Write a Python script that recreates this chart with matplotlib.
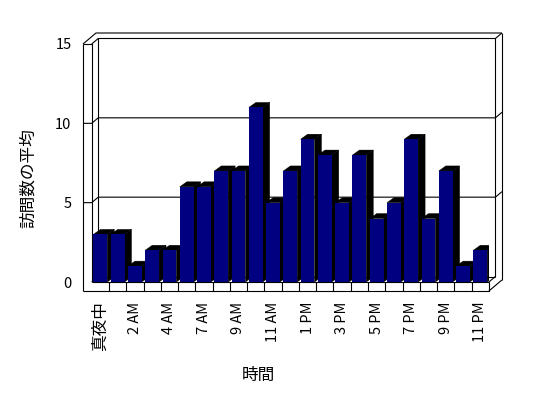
import matplotlib
matplotlib.use('Agg')
import matplotlib.pyplot as plt
from matplotlib.patches import Polygon

plt.rcParams['font.family'] = ['Noto Sans CJK JP', 'DejaVu Sans']

# ---- data ----
hours = ['真夜中', '1 AM', '2 AM', '3 AM', '4 AM', '6 AM', '7 AM', '8 AM',
         '9 AM', '10 AM', '11 AM', '12 PM', '1 PM', '2 PM', '3 PM', '4 PM',
         '5 PM', '6 PM', '7 PM', '8 PM', '9 PM', '10 PM', '11 PM']
values = [3, 3, 1, 2, 2, 6, 6, 7, 7, 11, 5, 7, 9, 8, 5, 8, 4, 5, 9, 4, 7, 1, 2]
y_ticks = [0, 5, 10, 15]
x_title = '時間'
y_title = '訪問数の平均'

# ---- figure ----
FW, FH = 548, 398
fig = plt.figure(figsize=(FW / 100, FH / 100), dpi=100)
L, R, T, B = 91.7, 488.9, 44, 282
ax = fig.add_axes([L / FW, 1 - B / FH, (R - L) / FW, (B - T) / FH])
n = len(values)
ymax = y_ticks[-1]
ax.set_xlim(-0.5, n - 0.5)
ax.set_ylim(0, ymax)
for s in ax.spines.values():
    s.set_visible(False)
ax.patch.set_visible(False)

# pixel -> data scale
sx = n / (R - L)
sy = ymax / (B - T)

x0, x1, y0, y1 = -0.5, n - 0.5, 0, ymax
t = 8.7 * sx          # left wall thickness
f = 9.0 * sy          # floor thickness
Dx, Dy = 6.5 * sx, 5.5 * sy   # back plane
Ox, Oy = 13 * sx, 11 * sy     # outer back plane
lw = 0.8
lc = 'black'


def line(pts, z=1):
    xs, ys = zip(*pts)
    ax.plot(xs, ys, color=lc, lw=lw, clip_on=False, zorder=z,
            solid_capstyle='butt')


# walls / frame (behind bars)
line([(x0 - t, y1), (x0 - t + Ox, y1 + Oy), (x1 + Ox, y1 + Oy)])
line([(x0, y1), (x0 + Dx, y1 + Dy), (x1 + Dx, y1 + Dy), (x1 + Ox, y1 + Oy)])
line([(x0 + Dx, y1 + Dy), (x0 + Dx, y0 + Dy), (x1 + Dx, y0 + Dy)])
line([(x0, y0), (x0 + Dx, y0 + Dy)])
line([(x1 + Dx, y1 + Dy), (x1 + Dx, y0 + Dy)])
line([(x1 + Ox, y1 + Oy), (x1 + Ox, y0 - f + Oy)])
line([(x1, y0), (x1 + Dx, y0 + Dy)])
line([(x1, y0 - f), (x1 + Ox, y0 - f + Oy)])
for v in y_ticks[1:-1]:
    line([(x0 - t, v), (x0, v), (x0 + Dx, v + Dy), (x1 + Dx, v + Dy),
          (x1 + Ox, v + Oy)])

# left wall front face
line([(x0 - t, y1), (x0 - t, y0 - f)], z=200)
line([(x0 - t, y1), (x0, y1), (x0, y0)], z=200)

# bars
w = 0.8
bdx, bdy = 7 * sx, 5 * sy
bars = ax.bar(range(n), values, width=w, color='#000080', linewidth=0)
for i, (v, p) in enumerate(zip(values, bars)):
    xr = i + w / 2
    xl = i - w / 2
    side = Polygon([(xr, 0), (xr + bdx, bdy), (xr + bdx, v + bdy), (xr, v)],
                   closed=True, facecolor='black', edgecolor='black',
                   lw=0.3, zorder=10 + 2 * i)
    cap = Polygon([(xl, v), (xl + bdx, v + bdy), (xr + bdx, v + bdy), (xr, v)],
                  closed=True, facecolor='black', edgecolor='black',
                  lw=0.3, zorder=10 + 2 * i)
    ax.add_patch(side)
    ax.add_patch(cap)
    p.set_zorder(11 + 2 * i)

# floor front face
line([(x0 - t, y0 - f), (x1, y0 - f), (x1, y0)], z=200)
line([(x0, y0), (x1, y0)], z=200)
for k in range(1, n):
    line([(k - 0.5, y0 - f), (k - 0.5, y0)], z=200)

# ticks
ax.tick_params(length=0)
ax.set_yticks(y_ticks)
ax.set_yticklabels([str(v) for v in y_ticks], fontsize=10.5)
ax.tick_params(axis='y', pad=14.5)
xt = list(range(0, n, 2))
ax.set_xticks(xt)
ax.set_xticklabels([hours[i] for i in xt], rotation=90, fontsize=10.5)
ax.tick_params(axis='x', pad=14)
for lab in ax.get_xticklabels():
    if not lab.get_text()[0].isdigit():
        lab.set_fontsize(12)

ax.set_ylabel(y_title, fontsize=12)
ax.yaxis.set_label_coords((28 - L) / (R - L), (B - 178) / (B - T))
ax.yaxis.label.set_va('center')
ax.set_xlabel(x_title, fontsize=12)
ax.xaxis.set_label_coords((258 - L) / (R - L), (B - 375.5) / (B - T))
ax.xaxis.label.set_va('center')

fig.savefig('out.png', dpi=100, facecolor='white')
